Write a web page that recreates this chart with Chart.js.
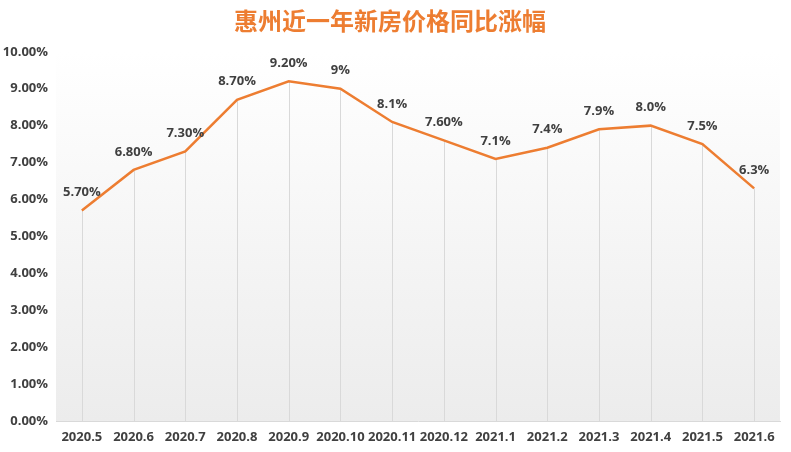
<!DOCTYPE html>
<html><head><meta charset="utf-8">
<script src="https://cdn.jsdelivr.net/npm/chart.js@4/dist/chart.umd.min.js"></script>
<style>html,body{margin:0;padding:0;background:#fff}#wrap{width:791px;height:452px}</style>
</head><body><div id="wrap"><canvas id="c" width="791" height="452"></canvas></div>
<script>
const categories = ['2020.5','2020.6','2020.7','2020.8','2020.9','2020.10','2020.11','2020.12','2021.1','2021.2','2021.3','2021.4','2021.5','2021.6'];
const values = [5.7, 6.8, 7.3, 8.7, 9.2, 9.0, 8.1, 7.6, 7.1, 7.4, 7.9, 8.0, 7.5, 6.3];
const valueLabels = ['5.70%','6.80%','7.30%','8.70%','9.20%','9%','8.1%','7.60%','7.1%','7.4%','7.9%','8.0%','7.5%','6.3%'];
const titleText = '惠州近一年新房价格同比涨幅';

const bgPlugin = {
  id:'bg',
  beforeDraw(chart){
    const {ctx, chartArea:a} = chart;
    const g = ctx.createLinearGradient(0, a.top, 0, a.bottom);
    g.addColorStop(0,'#ffffff');
    g.addColorStop(1,'#ececec');
    ctx.save(); ctx.fillStyle = g; ctx.fillRect(a.left, a.top - 12, a.right - a.left, a.bottom - a.top + 12); ctx.restore();
  },
  beforeDatasetsDraw(chart){
    const {ctx, chartArea:a} = chart;
    const meta = chart.getDatasetMeta(0);
    ctx.save(); ctx.strokeStyle = '#d9d9d9'; ctx.lineWidth = 1;
    meta.data.forEach(p => { const x = Math.round(p.x)+0.5; ctx.beginPath(); ctx.moveTo(x, p.y); ctx.lineTo(x, a.bottom); ctx.stroke(); });
    ctx.restore();
  },
  afterDatasetsDraw(chart){
    const {ctx} = chart;
    const meta = chart.getDatasetMeta(0);
    ctx.save(); ctx.fillStyle = '#404040'; ctx.font = 'bold 13px "Open Sans"'; ctx.textAlign = 'center'; ctx.textBaseline = 'middle';
    meta.data.forEach((p,i) => ctx.fillText(valueLabels[i], p.x, p.y - 18));
    ctx.restore();
  }
};

new Chart(document.getElementById('c'), {
  type:'line',
  data:{ labels: categories, datasets:[{ data: values, borderColor:'#ED7D31', borderWidth:2.5, pointRadius:0, tension:0, fill:false }]},
  options:{
    responsive:false, animation:false, devicePixelRatio:1,
    layout:{ padding:{ left:0, right:11, top:0, bottom:0 } },
    plugins:{
      legend:{display:false}, tooltip:{enabled:false},
      title:{ display:true, text:titleText, color:'#ED7D31', font:{ family:'"Noto Sans CJK SC"', size:24, weight:'bold', lineHeight:1.2 }, padding:{top:6, bottom:17} }
    },
    scales:{
      x:{ offset:true, grid:{ display:false, drawTicks:false }, border:{ display:true, color:'#d9d9d9', width:1 },
          ticks:{ color:'#404040', font:{ family:'"Open Sans"', size:13, weight:'bold' }, padding:8, maxRotation:0, autoSkip:false },
          afterFit(s){ s.height = 31; } },
      y:{ min:0, max:10, grid:{ display:false, drawTicks:false }, border:{ display:false },
          ticks:{ stepSize:1, color:'#404040', font:{ family:'"Open Sans"', size:13, weight:'bold' }, padding:8, callback:v => v.toFixed(2)+'%' },
          afterFit(s){ s.width = 56; } }
    }
  },
  plugins:[bgPlugin]
});
</script></body></html>
